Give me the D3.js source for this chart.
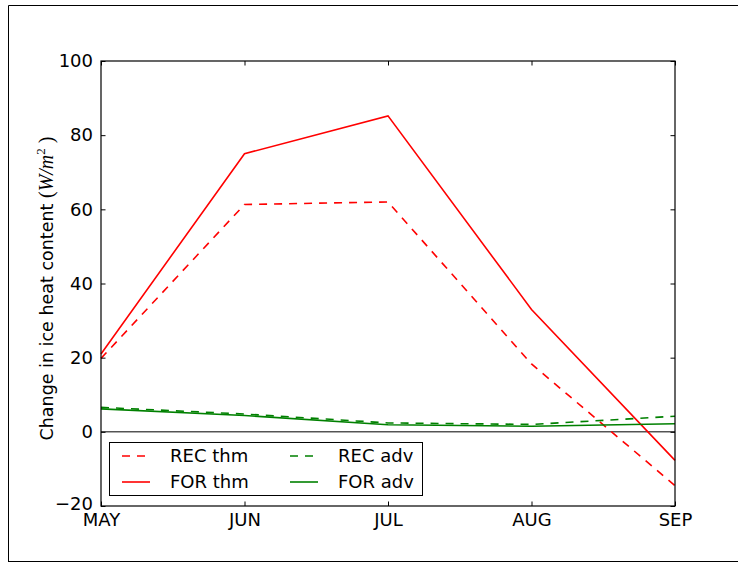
<!DOCTYPE html>
<html><head><meta charset="utf-8">
<script src="https://cdn.jsdelivr.net/npm/d3@7"></script>
<style>body{margin:0;background:#fff}svg{display:block}text{font-family:"DejaVu Sans",sans-serif}</style>
</head><body>
<svg id="c" width="738" height="563"></svg>
<script>
const months = ["MAY","JUN","JUL","AUG","SEP"];
const yTicks = [-20,0,20,40,60,80,100];
const recThm = [19.8, 61.3, 62.0, 18.3, -14.5];
const forThm = [21.0, 75.0, 85.2, 33.0, -7.7];
const recAdv = [6.6, 4.8, 2.4, 2.0, 4.2];
const forAdv = [6.2, 4.4, 1.9, 1.5, 2.2];
const series = [
  {name:"REC thm", values:recThm, color:"#ff0000", dash:"8,7"},
  {name:"FOR thm", values:forThm, color:"#ff0000", dash:null},
  {name:"REC adv", values:recAdv, color:"#008000", dash:"8,7"},
  {name:"FOR adv", values:forAdv, color:"#008000", dash:null}
];

const svg = d3.select("#c");
const L=101, R=675, T=61, B=506;
const FS=18;
const x = d3.scalePoint().domain(months).range([L,R]);
const y = d3.scaleLinear().domain([-20,100]).range([B,T]);

// outer figure frame
svg.append("path").attr("d","M8.5,562 L8.5,5.5 L738,5.5 M8.5,561.5 L738,561.5")
  .attr("fill","none").attr("stroke","#000").attr("stroke-width",1);

// zero line
svg.append("line").attr("x1",L).attr("x2",R).attr("y1",y(0)).attr("y2",y(0))
  .attr("stroke","#000").attr("stroke-width",1);

// series lines
const line = d3.line().x((d,i)=>x(months[i])).y(d=>y(d));
const g = svg.append("g");
g.selectAll("path").data(series).join("path")
  .attr("d",d=>line(d.values))
  .attr("fill","none").attr("stroke",d=>d.color).attr("stroke-width",1.6)
  .attr("stroke-dasharray",d=>d.dash);

// axes (ticks inward)
const tl=4.5;
svg.append("g").attr("transform",`translate(0,${B})`)
  .call(d3.axisBottom(x).tickSizeInner(-tl).tickSizeOuter(0).tickPadding(6))
  .call(a=>{a.select(".domain").remove();a.selectAll("text").attr("font-size",FS).attr("fill","#000").attr("dy","0.75em");});
svg.append("g").attr("transform",`translate(0,${T})`)
  .call(d3.axisTop(x).tickSizeInner(-tl).tickSizeOuter(0).tickFormat(""))
  .call(a=>a.select(".domain").remove());
svg.append("g").attr("transform",`translate(${L},0)`)
  .call(d3.axisLeft(y).tickValues(yTicks).tickSizeInner(-tl).tickSizeOuter(0).tickPadding(8)
        .tickFormat(d=>d<0?"\u2212"+Math.abs(d):d))
  .call(a=>{a.select(".domain").remove();a.selectAll("text").attr("font-size",FS).attr("fill","#000");
            a.selectAll(".tick").filter(d=>d<0).select("text").attr("dy","0.2em");});
svg.append("g").attr("transform",`translate(${R},0)`)
  .call(d3.axisRight(y).tickValues(yTicks).tickSizeInner(-tl).tickSizeOuter(0).tickFormat(""))
  .call(a=>a.select(".domain").remove());
svg.selectAll(".tick line").attr("stroke","#000");

// plot frame
svg.append("rect").attr("x",L).attr("y",T).attr("width",R-L).attr("height",B-T)
  .attr("fill","none").attr("stroke","#000").attr("stroke-width",1.2);

// y label
const yl = svg.append("text").attr("transform",`translate(53,${(T+B)/2+5}) rotate(-90)`)
  .attr("text-anchor","middle").attr("font-size",17.5).attr("fill","#000");
yl.append("tspan").text("Change in ice heat content ");
yl.append("tspan").attr("font-family","'Liberation Serif',serif").attr("font-size",20).text("(");
yl.append("tspan").attr("font-family","'Liberation Serif',serif").attr("font-style","italic").attr("font-size",20).text("W/m");
yl.append("tspan").attr("font-family","'Liberation Serif',serif").attr("font-size",13).attr("dy","-8").text("2");
yl.append("tspan").attr("font-family","'Liberation Serif',serif").attr("dy","8").attr("font-size",20).text(" )");

// legend
const lg = svg.append("g");
lg.append("rect").attr("x",109.5).attr("y",442.5).attr("width",313).attr("height",53)
  .attr("fill","#fff").attr("stroke","#000").attr("stroke-width",1);
const pos = [[122,456],[122,482],[290,456],[290,482]];
series.forEach((s,i)=>{
  const [px,py]=pos[i];
  lg.append("line").attr("x1",px).attr("x2",px+28).attr("y1",py).attr("y2",py)
    .attr("stroke",s.color).attr("stroke-width",1.6).attr("stroke-dasharray",s.dash);
  lg.append("text").attr("x",px+48).attr("y",py).attr("dy","0.36em")
    .attr("font-size",FS).attr("fill","#000").text(s.name);
});
</script>
</body></html>
